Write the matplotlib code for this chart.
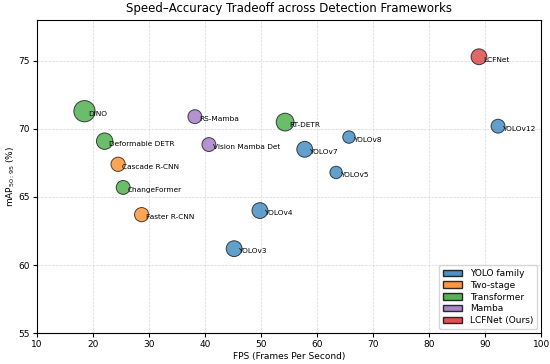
#!/usr/bin/env python3

import matplotlib
matplotlib.use('Agg')
import matplotlib.pyplot as plt
from matplotlib.patches import Patch

# detector data
names = ['YOLOv3', 'YOLOv4', 'YOLOv5', 'YOLOv7', 'YOLOv8', 'YOLOv12',
         'Faster R-CNN', 'Cascade R-CNN',
         'DINO', 'Deformable DETR', 'ChangeFormer', 'RT-DETR',
         'RS-Mamba', 'Vision Mamba Det',
         'LCFNet']
fps = [45.2, 49.8, 63.4, 57.8, 65.7, 92.3,
       28.7, 24.5,
       18.5, 22.1, 25.4, 54.3,
       38.2, 40.7,
       88.9]
mAP = [61.2, 64.0, 66.8, 68.5, 69.4, 70.2,
       63.7, 67.4,
       71.3, 69.1, 65.7, 70.5,
       70.9, 68.85,
       75.3]
bubble = [130, 130, 80, 130, 80, 100,
          105, 105,
          235, 140, 100, 165,
          100, 100,
          130]
group = ['YOLO family'] * 6 + ['Two-stage'] * 2 + ['Transformer'] * 4 + \
        ['Mamba'] * 2 + ['LCFNet (Ours)']

groups = ['YOLO family', 'Two-stage', 'Transformer', 'Mamba', 'LCFNet (Ours)']
colors = ['tab:blue', 'tab:orange', 'tab:green', 'tab:purple', 'tab:red']
cmap = dict(zip(groups, colors))

fig, ax = plt.subplots(figsize=(5.5, 3.64), dpi=100)

ax.scatter(fps, mAP, s=bubble, c=[cmap[g] for g in group], alpha=0.7,
           edgecolor='k', linewidth=0.7, zorder=3)

for n, x, y in zip(names, fps, mAP):
    ax.annotate(n, (x, y), xytext=(3, -2), textcoords='offset points',
                ha='left', va='center', fontsize=5.3, zorder=4)

ax.set_xlim(10, 100)
ax.set_ylim(55, 78)
ax.set_yticks([55, 60, 65, 70, 75])
ax.grid(ls='--', lw=0.5, alpha=0.5)
ax.tick_params(labelsize=6.5, length=3, pad=2)
ax.set_xlabel('FPS (Frames Per Second)', fontsize=6.5, labelpad=2)
ax.set_ylabel(r'mAP$_{50:95}$ (%)', fontsize=6.5, labelpad=1)
ax.set_title('Speed–Accuracy Tradeoff across Detection Frameworks', fontsize=8.5)

handles = [Patch(facecolor=c, edgecolor='k', alpha=0.8, label=g)
           for g, c in zip(groups, colors)]
ax.legend(handles=handles, loc='lower right', fontsize=6.5,
          handlelength=2.2, handleheight=0.7, labelspacing=0.3)

fig.subplots_adjust(left=0.067, right=0.984, top=0.945, bottom=0.085)
fig.savefig('out.png', dpi=100)
plt.close(fig)
